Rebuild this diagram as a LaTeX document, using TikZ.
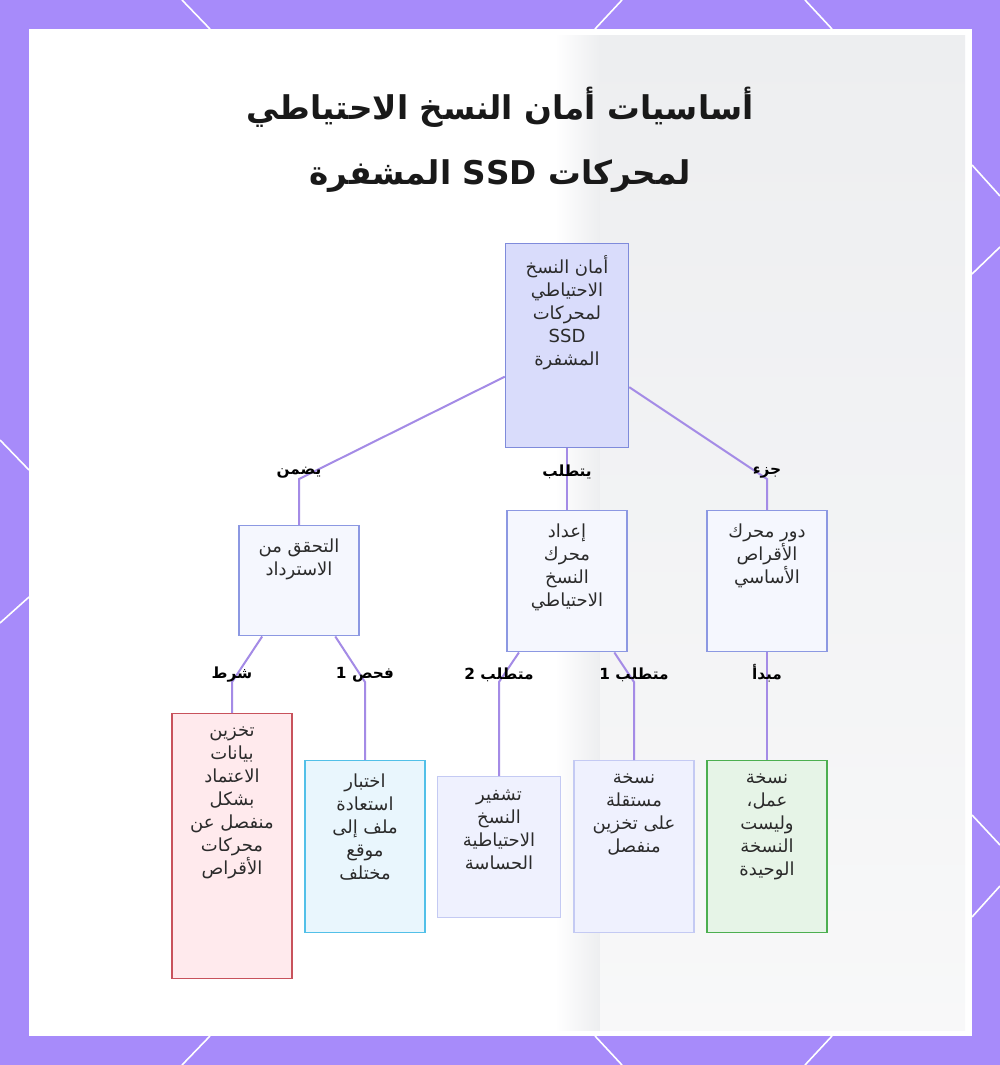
\documentclass[tikz,border=0pt]{standalone}
\usepackage{fontspec}
\usepackage{xcolor}
\usetikzlibrary{positioning}
\TeXXeTstate=1
\newfontfamily\arabicfont[Script=Arabic]{DejaVu Sans}
\newcommand{\artext}[1]{\beginR #1\endR}
\definecolor{frame_purple}{HTML}{A78BFA}
\definecolor{panel_gray}{HTML}{EDEEF0}
\definecolor{link_purple}{HTML}{A48BE6}
\definecolor{text_gray}{HTML}{2B2B2B}
\definecolor{root_fill}{HTML}{D9DCFB}
\definecolor{root_line}{HTML}{7F8BDB}
\definecolor{main_fill}{HTML}{F5F7FE}
\definecolor{main_line}{HTML}{8C98E2}
\definecolor{red_fill}{HTML}{FFEAED}
\definecolor{red_line}{HTML}{C8525C}
\definecolor{cyan_fill}{HTML}{E9F6FD}
\definecolor{cyan_line}{HTML}{52C0E8}
\definecolor{pale_fill}{HTML}{EFF1FE}
\definecolor{pale_line}{HTML}{C4CAF3}
\definecolor{green_fill}{HTML}{E6F4E7}
\definecolor{green_line}{HTML}{4CAF50}
\tikzset{
    treenode/.style = {align=center, inner sep=0pt, text centered},
    box_node/.style = {rectangle, anchor=north, line width=1.1pt, minimum width=90pt},
    root_node/.style = {box_node, draw=root_line, fill=root_fill, minimum width=92.25pt, minimum height=153pt},
    main_node/.style = {box_node, draw=main_line, fill=main_fill},
    red_node/.style = {box_node, draw=red_line, fill=red_fill},
    cyan_node/.style = {box_node, draw=cyan_line, fill=cyan_fill},
    pale_node/.style = {box_node, draw=pale_line, fill=pale_fill},
    green_node/.style = {box_node, draw=green_line, fill=green_fill},
    box_text/.style = {treenode, text=text_gray, font=\arabicfont\fontsize{13.5pt}{17.25pt}\selectfont},
    edge_label/.style = {treenode, anchor=south, text=black, font=\arabicfont\bfseries\fontsize{11.5pt}{12pt}\selectfont},
    title/.style = {treenode, text=black!90, font=\arabicfont\bfseries\fontsize{24.5pt}{49pt}\selectfont},
    link/.style = {draw=link_purple, line width=1.5pt}
}
\begin{document}
\begin{tikzpicture}[x=0.75pt, y=-0.75pt]
    \useasboundingbox (0,0) rectangle (1000,1065);

    % frame and background
    \fill[frame_purple] (0,0) rectangle (1000,1065);
    \foreach \xa/\ya/\xb/\yb in {182/0/210/29, 622/0/595/29, 805/0/832/29,
        210/1036/182/1065, 595/1036/622/1065, 832/1036/805/1065,
        0/440/29/470, 0/623/29/597,
        972/165/1000/196, 972/274/1000/247, 972/815/1000/845, 972/917/1000/886}
        \draw[white, line width=1.2pt] (\xa,\ya) -- (\xb,\yb);
    \fill[white] (29,29) rectangle (972,1036);
    \shade[left color=white, right color=panel_gray] (555,35) rectangle (600,1030);
    \shade[top color=panel_gray, bottom color=panel_gray!40] (600,35) rectangle (965,1030);

    % title
    \node[title] (title) at (500,140)
        {\artext{أساسيات أمان النسخ الاحتياطي}\\\artext{لمحركات \beginL SSD\endL{} المشفرة}};

    % boxes
    \node[root_node] (root) at (567,243) {};
    \node[main_node, minimum height=82.5pt] (verify) at (299,525) {};
    \node[main_node, minimum height=105.75pt] (setup) at (567,510) {};
    \node[main_node, minimum height=105.75pt] (role) at (767,510) {};
    \node[red_node, minimum height=198.75pt] (creds) at (232,713) {};
    \node[cyan_node, minimum height=129pt] (restore) at (365,760) {};
    \node[pale_node, minimum width=92.25pt, minimum height=105.75pt] (encrypt) at (499,776) {};
    \node[pale_node, minimum height=129pt] (offsite) at (634,760) {};
    \node[green_node, minimum height=129pt] (working) at (767,760) {};

    % box texts
    \node[box_text, below=9pt of root.north] (root_t)
        {\artext{أمان النسخ}\\\artext{الاحتياطي}\\\artext{لمحركات}\\SSD\\\artext{المشفرة}};
    \node[box_text, below=10pt of verify.north] (verify_t)
        {\artext{التحقق من}\\\artext{الاسترداد}};
    \node[box_text, below=10pt of setup.north] (setup_t)
        {\artext{إعداد}\\\artext{محرك}\\\artext{النسخ}\\\artext{الاحتياطي}};
    \node[box_text, below=10pt of role.north] (role_t)
        {\artext{دور محرك}\\\artext{الأقراص}\\\artext{الأساسي}};
    \node[box_text, below=10pt of creds.north] (creds_t)
        {\artext{تخزين}\\\artext{بيانات}\\\artext{الاعتماد}\\\artext{بشكل}\\\artext{منفصل عن}\\\artext{محركات}\\\artext{الأقراص}};
    \node[box_text, below=10pt of restore.north] (restore_t)
        {\artext{اختبار}\\\artext{استعادة}\\\artext{ملف إلى}\\\artext{موقع}\\\artext{مختلف}};
    \node[box_text, below=10pt of encrypt.north] (encrypt_t)
        {\artext{تشفير}\\\artext{النسخ}\\\artext{الاحتياطية}\\\artext{الحساسة}};
    \node[box_text, below=10pt of offsite.north] (offsite_t)
        {\artext{نسخة}\\\artext{مستقلة}\\\artext{على تخزين}\\\artext{منفصل}};
    \node[box_text, below=10pt of working.north] (working_t)
        {\artext{نسخة}\\\artext{عمل،}\\\artext{وليست}\\\artext{النسخة}\\\artext{الوحيدة}};

    % connectors
    \coordinate (j_ensures) at (299,479);
    \coordinate (j_requires) at (567,479);
    \coordinate (j_part) at (767,479);
    \coordinate (j_cond) at (232,682);
    \coordinate (j_check) at (365,682);
    \coordinate (j_req2) at (499,682);
    \coordinate (j_req1) at (634,682);
    \coordinate (j_rule) at (767,682);
    \draw[link] (root) -- (j_ensures) -- (verify);
    \draw[link] (root) -- (j_requires) -- (setup);
    \draw[link] (root) -- (j_part) -- (role);
    \draw[link] (verify) -- (j_cond) -- (creds);
    \draw[link] (verify) -- (j_check) -- (restore);
    \draw[link] (setup) -- (j_req2) -- (encrypt);
    \draw[link] (setup) -- (j_req1) -- (offsite);
    \draw[link] (role) -- (j_rule) -- (working);

    % connector labels
    \node[edge_label] (l_ensures) at (j_ensures) {\artext{يضمن}};
    \node[edge_label] (l_requires) at (j_requires) {\artext{يتطلب}};
    \node[edge_label] (l_part) at (j_part) {\artext{جزء}};
    \node[edge_label] (l_cond) at (j_cond) {\artext{شرط}};
    \node[edge_label] (l_check) at (j_check) {\artext{فحص 1}};
    \node[edge_label] (l_req2) at (j_req2) {\artext{متطلب 2}};
    \node[edge_label] (l_req1) at (j_req1) {\artext{متطلب 1}};
    \node[edge_label] (l_rule) at (j_rule) {\artext{مبدأ}};
\end{tikzpicture}
\end{document}
